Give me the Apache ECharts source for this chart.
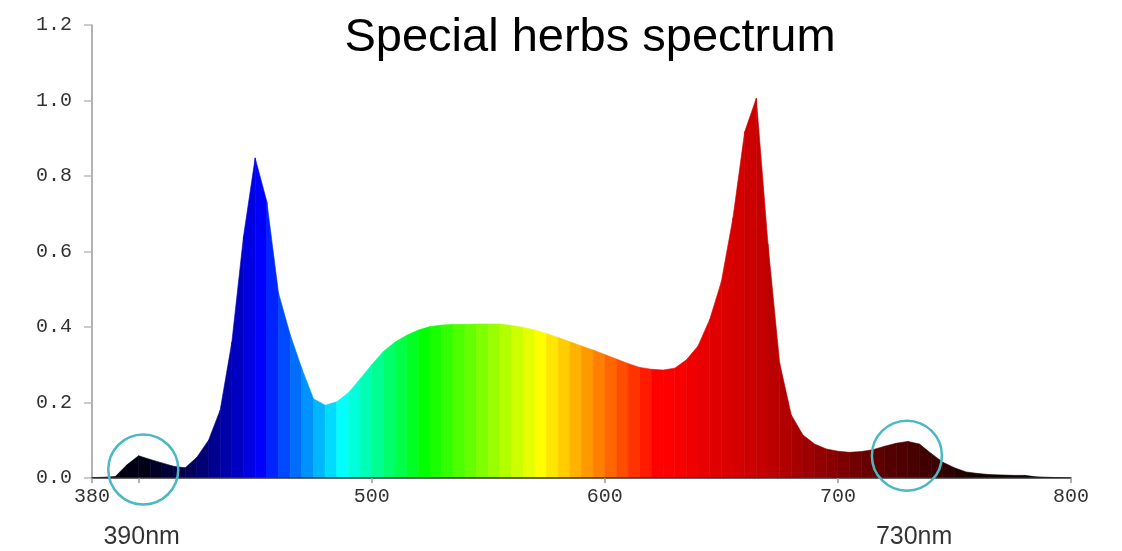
<!DOCTYPE html>
<html>
<head>
<meta charset="utf-8">
<script src="https://cdn.jsdelivr.net/npm/echarts@6/dist/echarts.min.js"></script>
<style>
html,body{margin:0;padding:0;background:#fff;}
#chart{width:1122px;height:551px;}
</style>
</head>
<body>
<div id="chart"></div>
<script>
// ---- data ----
const wavelengths = [380,385,390,395,400,405,410,415,420,425,430,435,440,445,450,455,460,465,470,475,
  480,485,490,495,500,505,510,515,520,525,530,535,540,545,550,555,560,565,570,575,
  580,585,590,595,600,605,610,615,620,625,630,635,640,645,650,655,660,665,670,675,
  680,685,690,695,700,705,710,715,720,725,730,735,740,745,750,755,760,765,770,775,
  780,785,790,795,800];
const intensity = [0.001,0.002,0.004,0.035,0.059,0.049,0.040,0.031,0.027,0.055,0.100,0.180,0.360,0.640,0.848,0.732,0.490,0.380,0.290,0.210,
  0.193,0.202,0.226,0.262,0.300,0.335,0.360,0.378,0.392,0.401,0.405,0.407,0.407,0.408,0.408,0.408,0.404,0.399,0.392,0.383,
  0.372,0.361,0.350,0.339,0.327,0.315,0.303,0.293,0.288,0.286,0.291,0.313,0.350,0.420,0.520,0.690,0.917,1.006,0.620,0.305,
  0.167,0.114,0.090,0.077,0.071,0.068,0.070,0.075,0.084,0.092,0.097,0.090,0.065,0.042,0.027,0.016,0.012,0.009,0.008,0.007,
  0.007,0.003,0.002,0.001,0.000];
const xTickValues = [380,400,500,600,700,800];
const xTickLabels = [380,500,600,700,800];
const yTickLabels = ['0.0','0.2','0.4','0.6','0.8','1.0','1.2'];
const markerWavelengths = [402, 729.6];
const markerValues = [0.0225, 0.059];
const noteWavelengths = [401.3, 732.7];
const noteTexts = ['390nm','730nm'];
const titleText = 'Special herbs spectrum';

// ---- style: wavelength colour stops ----
const COLOR_STOPS = [
  [380,[0,0,8]],[400,[0,0,22]],[420,[0,0,90]],[440,[0,0,195]],[450,[0,0,255]],
  [485,[0,255,255]],[520,[0,255,0]],[570,[255,255,0]],[620,[255,0,0]],[625,[255,0,0]],
  [640,[232,0,0]],[658,[208,0,0]],[672,[184,0,0]],[687,[153,0,0]],[706,[112,0,0]],
  [716,[90,0,0]],[730,[72,0,0]],[742,[56,0,0]],[748,[37,0,0]],[760,[16,0,0]],
  [780,[6,0,0]],[800,[0,0,0]]
];
function colorAt(w){
  for(let k=0;k<COLOR_STOPS.length-1;k++){
    const a=COLOR_STOPS[k], b=COLOR_STOPS[k+1];
    if(w>=a[0] && w<=b[0]){
      const t=(w-a[0])/(b[0]-a[0]);
      const c=a[1].map((v,j)=>Math.round(v+(b[1][j]-v)*t));
      return 'rgb('+c.join(',')+')';
    }
  }
  return '#000';
}

const chart = echarts.init(document.getElementById('chart'), null, {renderer:'canvas'});
const seriesData = wavelengths.map((w,i)=>[w,intensity[i]]);
const monoFont = 'Liberation Mono, DejaVu Sans Mono, monospace';

chart.setOption({
  animation:false,
  backgroundColor:'#fff',
  title:{
    text:titleText,
    left:585, top:10, textAlign:'center',
    textStyle:{fontFamily:'Liberation Sans, Arial, sans-serif',fontSize:47,fontWeight:'normal',color:'#000'}
  },
  grid:{left:92,right:51,top:25,bottom:73,containLabel:false},
  xAxis:{
    type:'value', min:380, max:800, z:5,
    axisLine:{show:true,lineStyle:{color:'#333',width:1.5}},
    axisTick:{show:true,length:5,customValues:xTickValues,lineStyle:{color:'#999',width:1.5}},
    splitLine:{show:false},
    axisLabel:{
      margin:9, color:'#333', fontFamily:monoFont, fontSize:20,
      customValues:xTickLabels,
      formatter:(v)=> String(v)
    }
  },
  yAxis:{
    type:'value', min:0, max:1.2, interval:0.2,
    axisLine:{show:true,lineStyle:{color:'#999',width:1.5}},
    axisTick:{show:true,length:8,lineStyle:{color:'#bbb',width:1.5}},
    splitLine:{show:false},
    axisLabel:{
      margin:20, color:'#333', fontFamily:monoFont, fontSize:20,
      formatter:(v)=> yTickLabels[Math.round(v/0.2)]
    }
  },
  series:[
    {
      type:'custom', z:2, clip:true,
      data:seriesData,
      encode:{x:0,y:1},
      renderItem:function(params, api){
        const i = params.dataIndex;
        if(i >= wavelengths.length-1) return null;
        const p0 = api.coord([wavelengths[i],0]);
        const p1 = api.coord([wavelengths[i],intensity[i]]);
        const p2 = api.coord([wavelengths[i+1],intensity[i+1]]);
        const p3 = api.coord([wavelengths[i+1],0]);
        const col = colorAt(wavelengths[i]);
        return {type:'polygon', shape:{points:[p0,p1,p2,p3]}, style:{fill:col, stroke:col, lineWidth:0.6}};
      }
    },
    {
      type:'scatter', z:10, silent:true,
      data: markerWavelengths.map((w,i)=>[w,markerValues[i]]),
      symbol:'circle', symbolSize:70,
      itemStyle:{color:'rgba(0,0,0,0)', borderColor:'#4bb8c4', borderWidth:2.5, opacity:1}
    },
    {
      type:'scatter', z:10, silent:true,
      data: noteWavelengths.map((w,i)=>({value:[w,0], name:noteTexts[i]})),
      symbolSize:0,
      label:{show:true, position:'inside', offset:[0,59], formatter:(p)=>p.name,
        fontFamily:'Liberation Sans, Arial, sans-serif', fontSize:25, color:'#000'}
    }
  ]
});
</script>
</body>
</html>
